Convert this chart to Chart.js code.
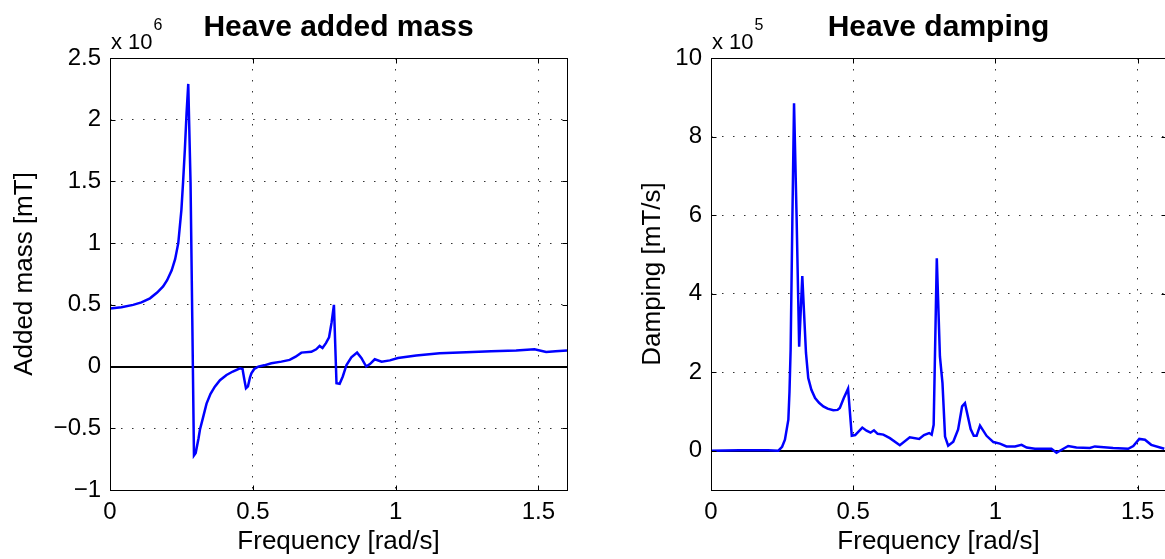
<!DOCTYPE html>
<html>
<head>
<meta charset="utf-8">
<title>Heave added mass and damping</title>
<script src="https://cdn.jsdelivr.net/npm/chart.js@4.4.1/dist/chart.umd.min.js"></script>
<style>
  html, body { margin: 0; padding: 0; background: #fff; overflow: hidden; }
  body { width: 1165px; height: 559px; position: relative; }
  canvas { position: absolute; top: 0; }
  #massChart { left: 0; }
  #dampChart { left: 620px; }
</style>
</head>
<body>
<canvas id="massChart" width="600" height="559"></canvas>
<canvas id="dampChart" width="550" height="559"></canvas>
<script>
// heave added mass, x 10^6 mT
const massFreq = [0, 0.04, 0.081, 0.11, 0.14, 0.165, 0.186, 0.2, 0.216, 0.228, 0.239, 0.25, 0.256, 0.262, 0.268, 0.274,
  0.282, 0.288, 0.294, 0.3, 0.31, 0.315, 0.325, 0.338, 0.352, 0.367, 0.385, 0.408, 0.43, 0.455, 0.464, 0.47, 0.476,
  0.483, 0.49, 0.495, 0.505, 0.519, 0.54, 0.565, 0.6, 0.629, 0.65, 0.67, 0.705, 0.722, 0.734, 0.744, 0.756, 0.767,
  0.776, 0.784, 0.793, 0.804, 0.815, 0.828, 0.845, 0.865, 0.88, 0.897, 0.91, 0.927, 0.951, 0.98, 1.008, 1.072, 1.154,
  1.247, 1.335, 1.422, 1.486, 1.527, 1.56, 1.6];
const addedMass = [0.47, 0.48, 0.5, 0.52, 0.553, 0.6, 0.65, 0.7, 0.78, 0.87, 1.0, 1.27, 1.5, 1.755, 2.05, 2.29,
  1.49, 0.4, -0.72, -0.7, -0.58, -0.51, -0.42, -0.3, -0.22, -0.163, -0.11, -0.068, -0.04, -0.014, -0.02, -0.1, -0.176,
  -0.16, -0.09, -0.055, -0.02, 0.0, 0.01, 0.027, 0.04, 0.054, 0.08, 0.113, 0.12, 0.14, 0.167, 0.15, 0.19, 0.237,
  0.36, 0.5, -0.135, -0.14, -0.08, 0.013, 0.075, 0.113, 0.07, 0.0, 0.02, 0.059, 0.04, 0.05, 0.07, 0.09, 0.108,
  0.116, 0.125, 0.13, 0.14, 0.118, 0.125, 0.13];

// heave damping, x 10^5 mT/s
const dampFreq = [0, 0.1, 0.2, 0.237, 0.25, 0.26, 0.272, 0.276, 0.28, 0.286, 0.292, 0.301, 0.31, 0.321, 0.334, 0.342,
  0.353, 0.366, 0.38, 0.395, 0.41, 0.43, 0.445, 0.453, 0.467, 0.482, 0.495, 0.507, 0.532, 0.547, 0.561, 0.573, 0.586,
  0.606, 0.629, 0.664, 0.699, 0.732, 0.749, 0.767, 0.776, 0.783, 0.794, 0.805, 0.814, 0.823, 0.834, 0.852, 0.869,
  0.883, 0.893, 0.913, 0.924, 0.934, 0.946, 0.969, 0.993, 1.016, 1.039, 1.069, 1.092, 1.11, 1.139, 1.197, 1.215,
  1.227, 1.256, 1.285, 1.332, 1.35, 1.414, 1.467, 1.485, 1.506, 1.526, 1.548, 1.594];
const damping = [0, 0.01, 0.01, 0.0, 0.1, 0.28, 0.79, 1.5, 2.57, 5.8, 8.85, 5.96, 2.65, 4.45, 2.49, 1.85,
  1.55, 1.34, 1.22, 1.13, 1.07, 1.03, 1.04, 1.09, 1.34, 1.58, 0.38, 0.4, 0.59, 0.51, 0.46, 0.52, 0.43,
  0.41, 0.32, 0.14, 0.34, 0.3, 0.4, 0.45, 0.41, 0.66, 4.9, 2.4, 1.72, 0.36, 0.13, 0.23, 0.54,
  1.13, 1.21, 0.55, 0.38, 0.38, 0.64, 0.38, 0.22, 0.18, 0.11, 0.11, 0.15, 0.08, 0.05, 0.05, -0.05,
  0.0, 0.12, 0.08, 0.07, 0.11, 0.07, 0.05, 0.12, 0.3, 0.28, 0.15, 0.05];

const freqTicks = [0, 0.5, 1, 1.5];
const massTicks = [-1, -0.5, 0, 0.5, 1, 1.5, 2, 2.5];
const dampTicks = [0, 2, 4, 6, 8, 10];

const FONT = "'Liberation Sans', Arial, Helvetica, sans-serif";
Chart.defaults.font.family = FONT;
Chart.defaults.color = '#000';

// box, inner tick marks, title and exponent, drawn matlab style
const matlabFrame = {
  id: 'matlabFrame',
  afterDraw(chart, args, opts) {
    const { ctx, chartArea: a, scales } = chart;
    ctx.save();
    ctx.strokeStyle = '#000';
    ctx.lineWidth = 1;
    const L = Math.round(a.left) + 0.5, R = Math.round(a.right) + 0.5;
    const T = Math.round(a.top) + 0.5, B = Math.round(a.bottom) + 0.5;
    ctx.strokeRect(L, T, R - L, B - T);
    ctx.beginPath();
    scales.x.ticks.forEach(t => {
      const px = Math.round(scales.x.getPixelForValue(t.value)) + 0.5;
      ctx.moveTo(px, B); ctx.lineTo(px, B - 5);
      ctx.moveTo(px, T); ctx.lineTo(px, T + 5);
    });
    scales.y.ticks.forEach(t => {
      const py = Math.round(scales.y.getPixelForValue(t.value)) + 0.5;
      ctx.moveTo(L, py); ctx.lineTo(L + 5, py);
      ctx.moveTo(R, py); ctx.lineTo(R - 5, py);
    });
    ctx.stroke();

    ctx.fillStyle = '#000';
    ctx.textAlign = 'center';
    ctx.textBaseline = 'alphabetic';
    ctx.font = 'bold 30px ' + FONT;
    ctx.fillText(opts.title, (a.left + a.right) / 2, 36);

    ctx.textAlign = 'left';
    ctx.font = '22px ' + FONT;
    const base = 'x 10';
    ctx.fillText(base, a.left + 1, 49);
    const w = ctx.measureText(base).width;
    ctx.font = '16px ' + FONT;
    ctx.fillText(opts.exponent, a.left + 2 + w, 30);
    ctx.restore();
  }
};

function fmt(v) {
  return String(v).replace('-', '\u2212');
}

function makeChart(id, xs, ys, yMin, yMax, yTicks, yTitle, title, exponent, yWidth, yTitlePad, padRight) {
  const points = xs.map((x, i) => ({ x: x, y: ys[i] }));
  return new Chart(document.getElementById(id), {
    type: 'line',
    data: {
      datasets: [{
        data: points,
        borderColor: '#0000ff',
        borderWidth: 2.5,
        pointRadius: 0,
        tension: 0
      }]
    },
    options: {
      responsive: false,
      animation: false,
      layout: { padding: { top: 58, right: padRight, left: 0, bottom: 0 } },
      plugins: {
        legend: { display: false },
        tooltip: { enabled: false },
        matlabFrame: { title: title, exponent: exponent }
      },
      scales: {
        x: {
          type: 'linear',
          min: 0,
          max: 1.6,
          afterBuildTicks: s => { s.ticks = freqTicks.map(v => ({ value: v })); },
          afterFit: s => { s.height = 69; },
          ticks: { font: { size: 24 }, padding: 8, maxRotation: 0, callback: v => fmt(v) },
          grid: { color: '#333', lineWidth: 1, drawTicks: false },
          border: { display: false, dash: [1.5, 9.5] },
          title: { display: true, text: 'Frequency [rad/s]', font: { size: 26 }, padding: { top: 0, bottom: 2 } }
        },
        y: {
          type: 'linear',
          min: yMin,
          max: yMax,
          afterBuildTicks: s => { s.ticks = yTicks.map(v => ({ value: v })); },
          afterFit: s => { s.width = yWidth; },
          ticks: { font: { size: 24 }, padding: 9, callback: v => fmt(v) },
          grid: {
            color: c => (c.tick && c.tick.value === 0) ? '#000' : '#333',
            lineWidth: c => (c.tick && c.tick.value === 0) ? 2 : 1,
            drawTicks: false
          },
          border: { display: false, dash: c => (c.tick && c.tick.value === 0) ? [] : [1.5, 9.5] },
          title: { display: true, text: yTitle, font: { size: 26 }, padding: { top: yTitlePad, bottom: 0 } }
        }
      }
    },
    plugins: [matlabFrame]
  });
}

makeChart('massChart', massFreq, addedMass, -1, 2.5, massTicks, 'Added mass [mT]', 'Heave added mass', '6', 110, 9, 33);
makeChart('dampChart', dampFreq, damping, -1, 10, dampTicks, 'Damping [mT/s]', 'Heave damping', '5', 91, 17, 4);
</script>
</body>
</html>
